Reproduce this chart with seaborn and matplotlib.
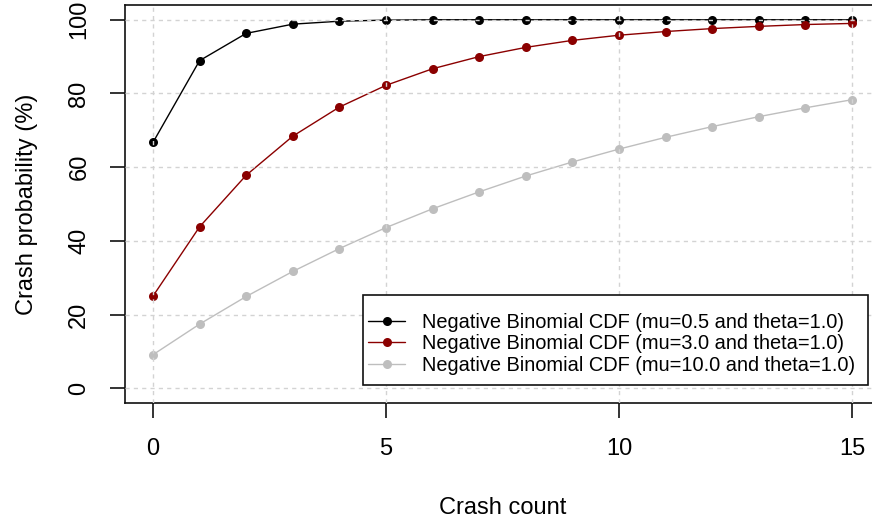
import matplotlib
matplotlib.use("Agg")
import matplotlib.pyplot as plt
from matplotlib.patches import Rectangle
import seaborn as sns
import pandas as pd

crash_count = list(range(16))
cdf_mu05 = [66.7, 88.9, 96.3, 98.8, 99.6, 99.9, 100.0, 100.0, 100.0, 100.0, 100.0, 100.0, 100.0, 100.0, 100.0, 100.0]
cdf_mu30 = [25.0, 43.8, 57.8, 68.4, 76.3, 82.2, 86.7, 90.0, 92.5, 94.4, 95.8, 96.8, 97.6, 98.2, 98.7, 99.0]
cdf_mu100 = [9.1, 17.4, 24.9, 31.7, 37.9, 43.6, 48.7, 53.3, 57.6, 61.4, 64.9, 68.1, 71.0, 73.7, 76.1, 78.3]
labels = ["Negative Binomial CDF (mu=0.5 and theta=1.0)",
          "Negative Binomial CDF (mu=3.0 and theta=1.0)",
          "Negative Binomial CDF (mu=10.0 and theta=1.0)"]
colors = ["#000000", "#8B0000", "#BEBEBE"]
x_ticks = [0, 5, 10, 15]
y_ticks = [0, 20, 40, 60, 80, 100]

sns.set_style("white")
plt.rcParams['font.family'] = ['Liberation Sans', 'DejaVu Sans']
plt.rcParams['text.color'] = 'black'
plt.rcParams['axes.labelcolor'] = 'black'
plt.rcParams['xtick.color'] = 'black'
plt.rcParams['ytick.color'] = 'black'

df = pd.DataFrame({
    "x": crash_count * 3,
    "y": cdf_mu05 + cdf_mu30 + cdf_mu100,
    "series": [labels[0]] * 16 + [labels[1]] * 16 + [labels[2]] * 16,
})

fig = plt.figure(figsize=(8.72, 5.27), dpi=100)
ax = fig.add_axes([125 / 872, 1 - 403 / 527, 755 / 872, 398 / 527])

sns.lineplot(data=df, x="x", y="y", hue="series", palette=colors,
             hue_order=labels, marker="o", markersize=6.5, markeredgewidth=0,
             linewidth=1.0, ax=ax, legend=True)

ax.set_xlim(-0.6, 15.6)
ax.set_ylim(-4, 104)
ax.set_xticks(x_ticks)
ax.set_yticks(y_ticks)
ax.set_xticklabels([str(v) for v in x_ticks])
ax.set_yticklabels([str(v) for v in y_ticks])

ax.set_axisbelow(False)
ax.grid(True, color="#d3d3d3", linestyle=(0, (3, 3)), linewidth=1.0)

for s in ax.spines.values():
    s.set_color("#111111")
    s.set_linewidth(1.2)

ax.tick_params(axis="both", direction="out", length=11, width=1.2, color="#111111",
               labelcolor="black", labelsize=17, pad=14, bottom=True, left=True)
for lab in ax.get_yticklabels():
    lab.set_rotation(90)
    lab.set_va("center")

ax.set_xlabel("Crash count", fontsize=17, color="black")
ax.set_ylabel("Crash probability (%)", fontsize=17, color="black")
ax.xaxis.set_label_coords(0.5, -0.236)
ax.yaxis.set_label_coords(-0.115, 0.5)
ax.xaxis.label.set_va("top")

# legend box (R-style: frame with white fill)
box = Rectangle((0.3152, 0.0452), 0.9841 - 0.3152, 0.2714 - 0.0452,
                transform=ax.transAxes, facecolor="white", edgecolor="#111111",
                linewidth=1.2, zorder=4, clip_on=False)
ax.add_patch(box)

handles, lbls = ax.get_legend_handles_labels()
leg = ax.legend(handles, lbls, loc="upper left",
                bbox_to_anchor=((368 - 125) / 755, (403 - 313) / 398),
                borderaxespad=0, borderpad=0, fontsize=14.4, frameon=False,
                handlelength=1.85, handletextpad=0.85, labelspacing=0.12)
leg.set_zorder(5)
for t in leg.get_texts():
    t.set_color("black")

fig.savefig("out.png", dpi=100)
